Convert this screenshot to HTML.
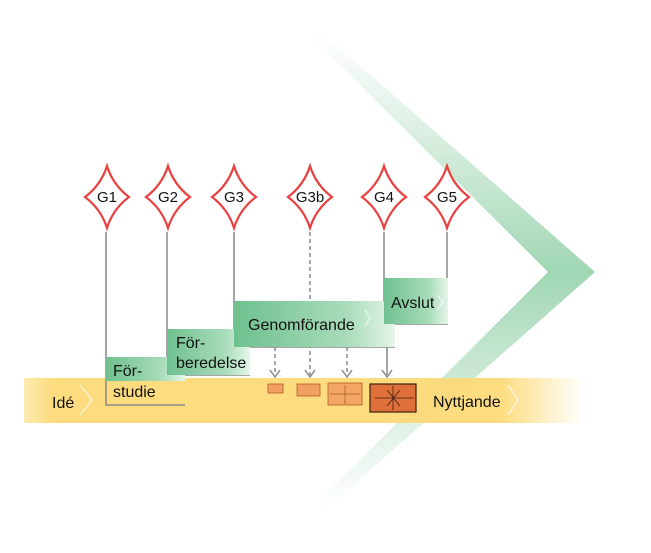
<!DOCTYPE html>
<html><head><meta charset="utf-8"><style>
body{margin:0;background:#fff}
svg text{font-family:"Liberation Sans",sans-serif;fill:#111}
</style></head><body>
<svg width="651" height="548" viewBox="0 0 651 548" xmlns="http://www.w3.org/2000/svg">
<defs>
<linearGradient id="chev" x1="0" y1="0" x2="0" y2="1">
<stop offset="0" stop-color="#9fd3b0" stop-opacity="0"/>
<stop offset="0.5" stop-color="#8ecfa5" stop-opacity="0.85"/>
<stop offset="1" stop-color="#9fd3b0" stop-opacity="0"/>
</linearGradient>
<linearGradient id="yel" x1="0" y1="0" x2="1" y2="0">
<stop offset="0" stop-color="#fde9a8"/>
<stop offset="0.05" stop-color="#fdd872"/>
<stop offset="0.85" stop-color="#fdd872"/>
<stop offset="1" stop-color="#fdd872" stop-opacity="0"/>
</linearGradient>
<linearGradient id="grn" x1="0" y1="0" x2="1" y2="0">
<stop offset="0" stop-color="#6fc08f"/>
<stop offset="0.7" stop-color="#a8dcb9"/>
<stop offset="1" stop-color="#e6f5ea"/>
</linearGradient>
<path id="dia" d="M0,-31 Q6,-12 22,0 Q6,12 0,31 Q-6,12 -22,0 Q-6,-12 0,-31Z"/>
</defs>
<polygon points="325,35 595,272 325,510 310,510 548,272 310,35" fill="url(#chev)"/>
<rect x="24" y="378" width="560" height="45" fill="url(#yel)" fill-opacity="0.9"/>
<g stroke="#888" stroke-width="1.5" fill="none">
<polyline points="106,232 106,405 185,405"/>
<polyline points="167,232 167,375 250,375"/>
<polyline points="234,232 234,347 395,347"/>
<polyline points="384,232 384,324 448,324"/>
<line x1="447" y1="232" x2="447" y2="278"/>
<line x1="387" y1="347" x2="387" y2="375"/>
<path d="M382,370 L387,377 L392,370"/>
</g>
<g stroke="#888" stroke-width="1.5" fill="none" stroke-dasharray="4,3">
<line x1="310" y1="232" x2="310" y2="375"/>
<line x1="275" y1="347" x2="275" y2="375"/>
<line x1="347" y1="347" x2="347" y2="375"/>
</g>
<g stroke="#888" stroke-width="1.5" fill="none">
<path d="M270,370 L275,377 L280,370"/><path d="M305,370 L310,377 L315,370"/><path d="M342,370 L347,377 L352,370"/>
</g>
<rect x="106" y="357" width="79" height="24" fill="url(#grn)"/>
<rect x="167" y="329" width="83" height="46" fill="url(#grn)"/>
<rect x="234" y="301" width="161" height="46" fill="url(#grn)"/>
<rect x="384" y="278" width="64" height="46" fill="url(#grn)"/>
<g stroke="#fff" stroke-opacity="0.6" fill="none" stroke-width="1.5">
<path d="M80,385 L92,400 L80,415"/><path d="M508,385 L518,400 L508,415"/>
<path d="M437,295 L443,302 L437,310"/><path d="M365,310 L370,318 L365,326"/>
</g>
<g font-size="16">
<text x="52" y="408">Idé</text>
<text x="113" y="376">För-</text>
<text x="113" y="397">studie</text>
<text x="176" y="348">För-</text>
<text x="176" y="368">beredelse</text>
<text x="248" y="330">Genomförande</text>
<text x="391" y="308">Avslut</text>
<text x="433" y="407">Nyttjande</text>
</g>
<g stroke="#b35a2a" stroke-width="0.8">
<rect x="268" y="384" width="15" height="9" fill="#f0a060"/>
<rect x="297" y="384" width="23" height="12" fill="#f0a060"/>
<rect x="328" y="383" width="34" height="22" fill="#f2a663"/>
<rect x="370" y="384" width="46" height="28" fill="#e0703a" stroke="#3a2010" stroke-width="1.2"/>
<path d="M375,398 H414 M393,386 V410 M387,390 L400,406 M400,390 L387,406" stroke="#3a2010" fill="none"/>
<path d="M330,394 H360 M345,385 V404" fill="none"/>
</g>
<g fill="#fff" stroke="#e8413f" stroke-width="2.2">
<use href="#dia" x="107" y="197"/><use href="#dia" x="168" y="197"/><use href="#dia" x="234" y="197"/>
<use href="#dia" x="310" y="197"/><use href="#dia" x="384" y="197"/><use href="#dia" x="447" y="197"/>
</g>
<g font-size="15" text-anchor="middle">
<text x="107" y="202">G1</text><text x="168" y="202">G2</text><text x="234" y="202">G3</text>
<text x="310" y="202">G3b</text><text x="384" y="202">G4</text><text x="447" y="202">G5</text>
</g>
</svg>
</body></html>
